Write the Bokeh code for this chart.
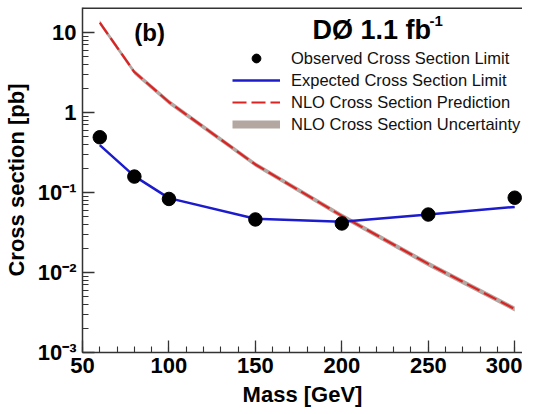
import numpy as np
from bokeh.plotting import figure
from bokeh.models import (FixedTicker, Legend, LegendItem, Label, Span, ColumnDataSource)
from bokeh.embed import file_html
from bokeh.resources import INLINE

# ---- data ----
mass = [60, 80, 100, 150, 200, 250, 300]
observed = [0.49, 0.158, 0.083, 0.046, 0.041, 0.053, 0.086]
expected = [0.39, 0.16, 0.085, 0.047, 0.043, 0.053, 0.066]
nlo = [13.3, 3.2, 1.35, 0.224, 0.051, 0.0128, 0.0035]
nlo_low = [12.4, 2.98, 1.26, 0.209, 0.0475, 0.0119, 0.00325]
nlo_high = [14.2, 3.42, 1.44, 0.239, 0.0545, 0.0137, 0.00375]

x_ticks = [50, 100, 150, 200, 250, 300]
x_minor = list(range(50, 310, 10))
y_ticks = [1e-3, 1e-2, 1e-1, 1, 10]
y_tick_labels = ["10\u207b\u00b3", "10\u207b\u00b2", "10\u207b\u00b9", "1", "10"]
y_minor = [m * 10.0 ** e for e in range(-3, 2) for m in range(2, 10)]

FONT = "Liberation Sans"
Y_END = 20.5

p = figure(width=522, height=414, x_range=(50, 304.5), y_range=(1e-3, Y_END),
           y_axis_type="log", output_backend="svg", toolbar_location=None,
           min_border_left=74, min_border_right=0, min_border_top=7, min_border_bottom=62)
p.outline_line_color = None
p.background_fill_color = "white"
p.xgrid.visible = False
p.ygrid.visible = False

src = ColumnDataSource(dict(m=mass, obs=observed, exp=expected, nlo=nlo, lo=nlo_low, hi=nlo_high))

p.varea(x="m", y1="lo", y2="hi", source=src, fill_color="#b4a7a2")
band_leg = p.line(x=np.array([np.nan]), y=np.array([np.nan]), line_color="#b4a7a2", line_width=8)
r_nlo = p.line(x="m", y="nlo", source=src, line_color="#dd2222", line_width=2.2, line_dash="14 5")
r_exp = p.line(x="m", y="exp", source=src, line_color="#1c1ccc", line_width=2.5)
r_obs = p.scatter(x="m", y="obs", source=src, size=13.5, fill_color="black", line_color="black")

top = Span(location=Y_END, dimension="width", line_color="#333333", line_width=3)
p.add_layout(top)

# axes
for ax in (p.xaxis[0], p.yaxis[0]):
    ax.axis_line_color = "#333333"
    ax.axis_line_width = 1.5
    ax.major_tick_in = 12
    ax.major_tick_out = 0
    ax.minor_tick_in = 6
    ax.minor_tick_out = 0
    ax.major_tick_line_color = "#333333"
    ax.minor_tick_line_color = "#333333"
    ax.major_tick_line_width = 1.3
    ax.minor_tick_line_width = 1.1
    ax.major_label_text_font = FONT
    ax.major_label_text_font_style = "bold"
    ax.major_label_text_font_size = "22px"
    ax.major_label_text_color = "black"
    ax.axis_label_text_font = FONT
    ax.axis_label_text_font_style = "bold"
    ax.axis_label_text_font_size = "22px"
    ax.axis_label_text_color = "black"

p.xaxis.ticker = FixedTicker(ticks=x_ticks, minor_ticks=x_minor)
p.yaxis.ticker = FixedTicker(ticks=y_ticks, minor_ticks=y_minor)
p.yaxis.major_label_overrides = {t: l for t, l in zip(y_ticks, y_tick_labels)}
p.xaxis.axis_label = "Mass [GeV]"
p.yaxis.axis_label = "Cross section [pb]"
p.xaxis.major_label_standoff = 5
p.xaxis.axis_label_standoff = 6
p.yaxis.major_label_standoff = 6
p.yaxis.axis_label_standoff = 6

legend = Legend(items=[
    LegendItem(label="Observed Cross Section Limit", renderers=[r_obs]),
    LegendItem(label="Expected Cross Section Limit", renderers=[r_exp]),
    LegendItem(label="NLO Cross Section Prediction", renderers=[r_nlo]),
    LegendItem(label="NLO Cross Section Uncertainty", renderers=[band_leg]),
], location=(150, 217))
legend.background_fill_alpha = 0
legend.border_line_color = None
legend.padding = 0
legend.margin = 0
legend.spacing = 0
legend.glyph_width = 48
legend.glyph_height = 22
legend.label_height = 22
legend.label_standoff = 11
legend.label_text_font = FONT
legend.label_text_font_size = "16.5px"
legend.label_text_color = "#111111"
p.add_layout(legend, "center")

p.add_layout(Label(x=80, y=10, text="(b)", text_font=FONT, text_font_style="bold",
                   text_font_size="24px", text_baseline="middle", text_color="black"))
p.add_layout(Label(x=183, y=10.8, text="D\u00d8 1.1 fb", text_font=FONT,
                   text_font_style="bold", text_font_size="27px", text_baseline="middle",
                   text_color="black"))
p.add_layout(Label(x=183, y=10.8, x_offset=117, y_offset=9, text="-1", text_font=FONT,
                   text_font_style="bold", text_font_size="15px", text_baseline="middle",
                   text_color="black"))

open("out.html", "w").write(file_html(p, INLINE))
